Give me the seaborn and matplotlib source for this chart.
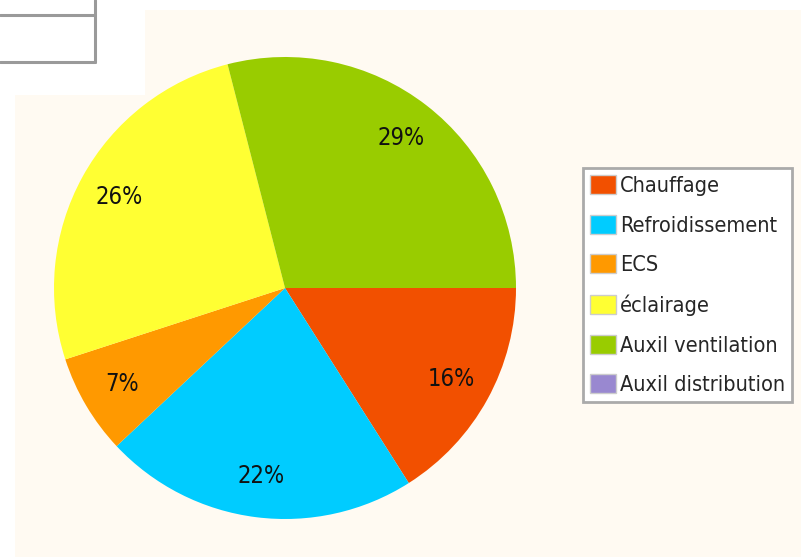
import matplotlib
matplotlib.use("Agg")
import matplotlib.pyplot as plt
import seaborn as sns
from matplotlib.patches import Patch, Rectangle
from matplotlib.lines import Line2D

# parts de consommation (%)
postes = ["Chauffage", "Refroidissement", "ECS", "éclairage",
          "Auxil ventilation", "Auxil distribution"]
parts = [16, 22, 7, 26, 29, 0]
couleurs = ["#f25000", "#00ccff", "#ff9900", "#ffff33", "#99cc00", "#9988d0"]

sns.set_style("white")
plt.rcParams['font.family'] = ['DejaVu Sans']

W, H = 801, 557
fig = plt.figure(figsize=(W / 100, H / 100), dpi=100, facecolor="white")

# fond crème
creme = "#fffaf2"
fig.add_artist(Rectangle((15 / W, 0), 1 - 15 / W, 1 - 95 / H,
                         transform=fig.transFigure, color=creme, lw=0, zorder=0))
fig.add_artist(Rectangle((145 / W, 0), 1 - 145 / W, 1 - 10 / H,
                         transform=fig.transFigure, color=creme, lw=0, zorder=0))

# morceau de tableau en haut à gauche
for xs, ys in [([0, 95], [15, 15]), ([0, 95], [62, 62]), ([95, 95], [0, 62])]:
    fig.add_artist(Line2D([x / W for x in xs], [1 - y / H for y in ys],
                          transform=fig.transFigure, color="#9a9a9a", lw=2.2))

# camembert
cx, cy, r = 285, 288, 231
ax = fig.add_axes([(cx - r) / W, (H - cy - r) / H, 2 * r / W, 2 * r / H])
pal = sns.color_palette(couleurs)
wedges, textes, autotextes = ax.pie(
    parts, colors=pal, startangle=0, counterclock=False,
    autopct=lambda p: "%d%%" % round(p) if p > 0.5 else "",
    pctdistance=0.82, wedgeprops=dict(linewidth=0),
    textprops=dict(fontsize=17, fontstretch="condensed", color="#111111"))
ax.set_xlim(-1, 1)
ax.set_ylim(-1, 1)
ax.set_facecolor("none")

# légende
poignees = [Patch(facecolor=c, edgecolor="#cccccc", linewidth=1) for c in pal]
leg = fig.legend(poignees, postes, loc="upper left",
                 bbox_to_anchor=(583 / W, 1 - 168 / H), borderaxespad=0,
                 prop=dict(size=15.6, stretch="condensed"),
                 handlelength=1.2, handleheight=0.97, handletextpad=0.2,
                 labelspacing=0.87, borderpad=0.32, fancybox=False,
                 frameon=True, framealpha=1, facecolor="white",
                 edgecolor="#aaaaaa")
leg.get_frame().set_linewidth(2)

fig.savefig("out.png", dpi=100, facecolor="white")
